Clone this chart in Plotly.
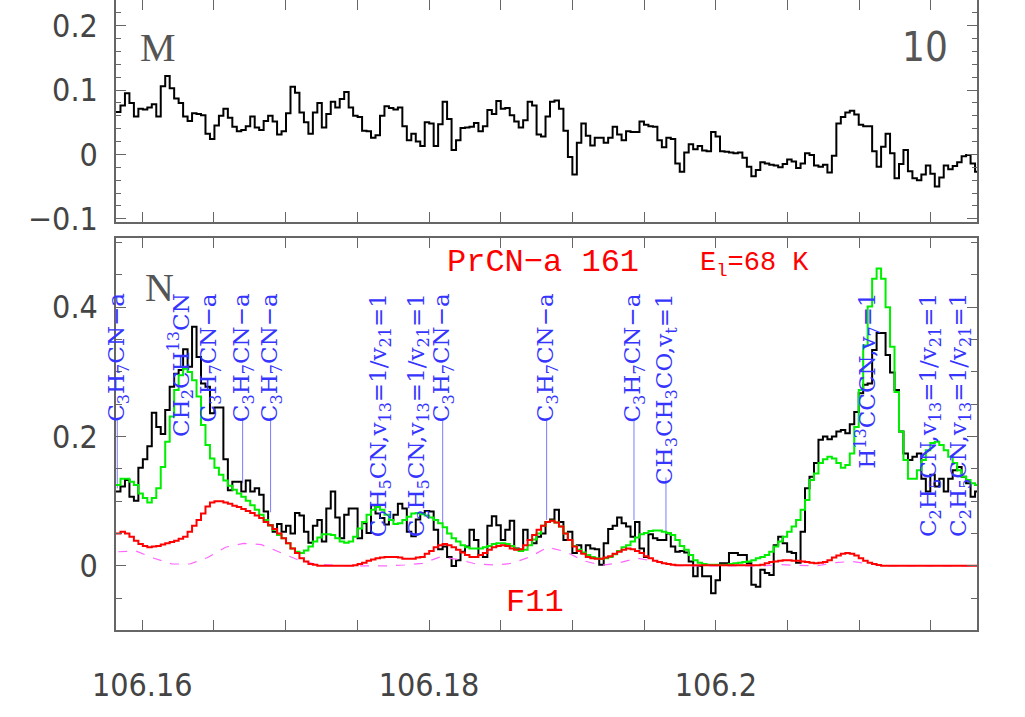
import plotly.graph_objects as go
import numpy as np

# spectral axis: left edge of first channel and channel width (GHz)
F0 = 106.15817
DF = 0.000312
X_RANGE = [106.15817, 106.21821]

# top panel (M) observed spectrum
obs_top = [0.066, 0.076, 0.095, 0.080, 0.059, 0.071, 0.070, 0.073, 0.078, 0.059,
           0.106, 0.122, 0.103, 0.087, 0.080, 0.059, 0.052, 0.064, 0.063, 0.061,
           0.032, 0.024, 0.045, 0.060, 0.071, 0.057, 0.043, 0.036, 0.038, 0.044,
           0.059, 0.042, 0.038, 0.052, 0.060, 0.051, 0.031, 0.036, 0.064, 0.105,
           0.096, 0.065, 0.050, 0.032, 0.065, 0.080, 0.042, 0.063, 0.082, 0.073,
           0.086, 0.097, 0.073, 0.060, 0.058, 0.037, 0.036, 0.026, 0.030, 0.060,
           0.075, 0.072, 0.070, 0.073, 0.044, 0.022, 0.032, 0.020, 0.013, 0.050,
           0.048, 0.013, 0.047, 0.082, 0.055, 0.007, 0.022, 0.041, 0.042, 0.043,
           0.049, 0.036, 0.044, 0.069, 0.063, 0.083, 0.071, 0.072, 0.061, 0.051,
           0.042, 0.053, 0.082, 0.076, 0.031, 0.028, 0.059,
           0.082, 0.084, 0.071, 0.037, -0.004, -0.031, 0.018, 0.048, 0.029, 0.014,
           0.026, 0.026, 0.018, 0.026, 0.043, 0.031, 0.022, 0.036, 0.035, 0.035,
           0.051, 0.046, 0.044, 0.043, 0.022, 0.011, 0.026, 0.024, -0.014, -0.027,
           0.003, 0.016, 0.008, 0.013, 0.006, 0.005, 0.035, 0.028, 0.005, 0.004,
           0.003, 0.002, 0.003, -0.005, -0.019, -0.034, -0.024, -0.012, -0.014, -0.016,
           -0.017, -0.020, -0.015, -0.008, -0.011, -0.021, -0.014, 0.002, -0.001, -0.017,
           -0.019, -0.016, -0.028, -0.002, 0.048, 0.058, 0.065, 0.068, 0.062, 0.046,
           0.044, 0.044, 0.005, -0.019, 0.012, 0.032, 0.002, -0.037, -0.015, 0.007,
           -0.026, -0.037, -0.040, -0.031, -0.017, -0.030, -0.050, -0.036, -0.017, -0.023,
           -0.018, -0.012, -0.003, -0.001, -0.014, -0.027]

# bottom panel (N) observed spectrum
obs_bot = [0.115, 0.123, 0.133, 0.107, 0.101, 0.152, 0.165, 0.185, 0.237, 0.215,
           0.204, 0.241, 0.277, 0.297, 0.303, 0.335, 0.308, 0.370, 0.323, 0.282,
           0.277, 0.236, 0.245, 0.245, 0.165, 0.117, 0.130, 0.130, 0.115, 0.132,
           0.115, 0.120, 0.110, 0.084, 0.063, 0.053, 0.065, 0.053, 0.062, 0.050,
           0.082, 0.078, 0.053, 0.036, 0.062, 0.071, 0.038, 0.089, 0.115, 0.075,
           0.043, 0.079, 0.089, 0.089, 0.043, 0.066, 0.051, 0.094, 0.081, 0.074,
           0.064, 0.071, 0.079, 0.096, 0.089, 0.053, 0.046, 0.072,
           0.081, 0.085, 0.084, 0.056, 0.026, 0.030, 0.014, 0.000, 0.009, 0.022,
           0.030, 0.056, 0.040, 0.017, 0.014, 0.062, 0.077, 0.063, 0.040, 0.056,
           0.070, 0.027, 0.025, 0.056, 0.040, 0.035, 0.045, 0.050, 0.068, 0.072,
           0.087, 0.068, 0.040, 0.053, 0.020, 0.032, 0.020, 0.032, 0.027, 0.026,
           0.002, 0.035, 0.057, 0.062, 0.075, 0.066, 0.061, 0.045, 0.068, 0.027,
           0.014, 0.049, 0.043, 0.040, 0.040, 0.050, 0.030, 0.022, 0.023, 0.021,
           0.007, -0.016, 0.000,
           -0.016, -0.016, -0.042, -0.022, 0.004, 0.004, 0.020, 0.020, 0.017, 0.017,
           0.004, -0.029, -0.032, -0.006, -0.011, -0.014, 0.032, 0.045, 0.035, 0.022,
           0.020, 0.005, 0.053, 0.120, 0.138, 0.159, 0.195, 0.200, 0.196, 0.200,
           0.208, 0.210, 0.205, 0.219, 0.238, 0.267, 0.280, 0.282, 0.334, 0.360,
           0.360, 0.326, 0.299, 0.272, 0.208, 0.174, 0.164, 0.169, 0.174, 0.135,
           0.115, 0.141, 0.123, 0.135, 0.115, 0.135, 0.148, 0.153, 0.138, 0.128,
           0.107, 0.115]

# full model (green)
model_all = [0.125, 0.135, 0.135, 0.130, 0.125, 0.112, 0.105, 0.098, 0.105, 0.120,
             0.153, 0.192, 0.231, 0.272, 0.295, 0.305, 0.300, 0.287, 0.262, 0.218,
             0.187, 0.166, 0.152, 0.141, 0.132, 0.124, 0.118, 0.112, 0.107, 0.101,
             0.094, 0.087, 0.079, 0.071, 0.063, 0.056, 0.048, 0.043, 0.035, 0.027,
             0.022, 0.020, 0.024, 0.030, 0.038, 0.044, 0.049, 0.049, 0.048, 0.043,
             0.038, 0.036, 0.038, 0.045, 0.058, 0.068, 0.079, 0.087, 0.091, 0.087,
             0.079, 0.071, 0.065, 0.066, 0.071, 0.076, 0.081, 0.082,
             0.080, 0.078, 0.075, 0.071, 0.066, 0.060, 0.050,
             0.043, 0.038, 0.032, 0.029, 0.027, 0.027, 0.027, 0.029, 0.031, 0.034,
             0.035, 0.035, 0.034, 0.031, 0.026, 0.023, 0.025, 0.032, 0.041, 0.050,
             0.062, 0.068, 0.070, 0.067, 0.061, 0.050, 0.040, 0.031, 0.025, 0.021,
             0.017, 0.014, 0.012, 0.011, 0.012, 0.014, 0.018, 0.023, 0.029, 0.032,
             0.038, 0.044, 0.049, 0.051, 0.054, 0.055, 0.055, 0.053, 0.051, 0.048,
             0.040, 0.031, 0.025, 0.017, 0.009, 0.005, 0.003,
             0.002, 0.002, 0.002, 0.002, 0.002, 0.003, 0.004, 0.005, 0.006, 0.007,
             0.009, 0.012, 0.014, 0.017, 0.022, 0.030, 0.038, 0.045, 0.053, 0.061,
             0.071, 0.087, 0.102, 0.133, 0.143, 0.159, 0.165, 0.169, 0.166, 0.159,
             0.152, 0.156, 0.174, 0.215, 0.272, 0.341, 0.401, 0.444, 0.460, 0.444,
             0.400, 0.339, 0.269, 0.208, 0.164, 0.135, 0.135, 0.148, 0.164, 0.179,
             0.190, 0.192, 0.187, 0.179, 0.169, 0.159, 0.148, 0.138, 0.133, 0.128,
             0.125]

# PrCN-a model (red)
model_prcn = [0.050, 0.053, 0.050, 0.045, 0.039, 0.034, 0.031, 0.029, 0.030, 0.031,
              0.033, 0.035, 0.037, 0.039, 0.042, 0.045, 0.053, 0.062, 0.071, 0.081,
              0.092, 0.098, 0.100, 0.100, 0.098, 0.096, 0.093, 0.091, 0.088, 0.085,
              0.082, 0.078, 0.074, 0.068, 0.063, 0.057, 0.050, 0.043, 0.035, 0.027,
              0.020, 0.012, 0.007, 0.003, 0.002, 0.0005, 0.0005, 0.0005, 0.0005, 0.0005,
              0.0005, 0.0005, 0.0005, 0.001, 0.003, 0.005, 0.008, 0.010, 0.012, 0.013,
              0.014, 0.014, 0.014, 0.013, 0.011, 0.011, 0.011, 0.013, 0.014,
              0.019, 0.023, 0.029, 0.032, 0.034, 0.032, 0.029, 0.025, 0.021, 0.017,
              0.014, 0.014, 0.017, 0.020, 0.025, 0.029, 0.031, 0.032, 0.031, 0.027,
              0.025, 0.026, 0.032, 0.040, 0.048, 0.056, 0.062, 0.068, 0.070, 0.067,
              0.061, 0.050, 0.040, 0.030, 0.023, 0.019, 0.014, 0.012, 0.011, 0.011,
              0.013, 0.015, 0.019, 0.022, 0.025, 0.027, 0.026, 0.023, 0.020, 0.015,
              0.012, 0.008, 0.006, 0.004, 0.003,
              0.002, 0.001, 0.001, 0.001, 0.001, 0.001, 0.001, 0.001, 0.001, 0.001,
              0.001, 0.001, 0.001, 0.001, 0.001, 0.001, 0.001, 0.001, 0.001, 0.001,
              0.002, 0.004, 0.006, 0.007, 0.008, 0.009, 0.009, 0.008, 0.008, 0.007,
              0.006, 0.005, 0.004, 0.005, 0.006, 0.009, 0.013, 0.016, 0.019, 0.020,
              0.019, 0.016, 0.012, 0.008, 0.005, 0.003, 0.0015,
              0.0005, 0.0005, 0.0005, 0.0005, 0.0005, 0.0005, 0.0005, 0.0005, 0.0005, 0.0005,
              0.0005, 0.0005, 0.0005, 0.0005, 0.0005, 0.0005, 0.0005, 0.0005, 0.0005, 0.0005,
              0.0005, 0.0005]

# magenta dashed model, every 4th channel
model_dash = [0.022, 0.023, 0.012, 0.003, 0.003, 0.013, 0.029, 0.035, 0.033, 0.022,
              0.010, 0.003, 0.001, 0.0, 0.0, 0.0, 0.0015, 0.004, 0.014, 0.010,
              0.003, 0.0015, 0.004, 0.014, 0.029, 0.022, 0.008, 0.001, 0.005, 0.012,
              0.007, 0.001, 0.0, 0.0, 0.0, 0.0, 0.0, 0.002, 0.001, 0.0,
              0.005, 0.007, 0.003, 0.0, 0.0, 0.0, 0.0, 0.0, 0.0]

# line identifications
line_freq = [106.15826, 106.16263, 106.16472, 106.16700, 106.16895, 106.17660,
             106.17925, 106.18095, 106.18820, 106.19429, 106.19652, 106.21052,
             106.21493, 106.21702]
line_names = ["C<sub>3</sub>H<sub>7</sub>CN\u2212a",
              "CH<sub>2</sub>CH<sup>13</sup>CN",
              "C<sub>3</sub>H<sub>7</sub>CN\u2212a",
              "C<sub>3</sub>H<sub>7</sub>CN\u2212a",
              "C<sub>3</sub>H<sub>7</sub>CN\u2212a",
              "C<sub>2</sub>H<sub>5</sub>CN,v<sub>13</sub>=1/v<sub>21</sub>=1",
              "C<sub>2</sub>H<sub>5</sub>CN,v<sub>13</sub>=1/v<sub>21</sub>=1",
              "C<sub>3</sub>H<sub>7</sub>CN\u2212a",
              "C<sub>3</sub>H<sub>7</sub>CN\u2212a",
              "C<sub>3</sub>H<sub>7</sub>CN\u2212a",
              "CH<sub>3</sub>CH<sub>3</sub>CO,v<sub>t</sub>=1",
              "H<sup>13</sup>CCCN,v<sub>7</sub>=1",
              "C<sub>2</sub>H<sub>5</sub>CN,v<sub>13</sub>=1/v<sub>21</sub>=1",
              "C<sub>2</sub>H<sub>5</sub>CN,v<sub>13</sub>=1/v<sub>21</sub>=1"]
line_top = [0.229, 0.213, 0.233, 0.229, 0.229, 0.03, 0.03, 0.225, 0.225, 0.225,
            0.137, 0.16, 0.03, 0.03]
line_bottom = [0.120, 0.213, 0.233, 0.128, 0.083, 0.03, 0.03, 0.025, 0.071, 0.071,
               0.053, 0.16, 0.03, 0.03]
LABEL_Y = 0.425

n = len(obs_bot)
edges = F0 + DF * np.arange(n + 1)
centers = F0 + DF * (np.arange(n) + 0.5)


def close(v):
    return list(v) + [v[-1]]


fig = go.Figure()

fig.add_trace(go.Scatter(x=edges, y=close(obs_top), mode='lines', line_shape='hv',
                         line=dict(color='black', width=2), xaxis='x', yaxis='y'))

# blue marker lines
lx, ly = [], []
for f, t, b in zip(line_freq, line_top, line_bottom):
    if t > b:
        lx += [f, f, None]
        ly += [t, b, None]
fig.add_trace(go.Scatter(x=lx, y=ly, mode='lines', line=dict(color='#7b7bff', width=1),
                         xaxis='x2', yaxis='y2'))

fig.add_trace(go.Scatter(x=edges, y=close(obs_bot), mode='lines', line_shape='hv',
                         line=dict(color='black', width=2), xaxis='x2', yaxis='y2'))
fig.add_trace(go.Scatter(x=edges, y=close(model_all), mode='lines', line_shape='hv',
                         line=dict(color='#00ee00', width=2), xaxis='x2', yaxis='y2'))
fig.add_trace(go.Scatter(x=centers[::4], y=model_dash, mode='lines',
                         line=dict(color='#ff66ff', width=1.2, dash='dash'),
                         xaxis='x2', yaxis='y2'))
fig.add_trace(go.Scatter(x=edges, y=close(model_prcn), mode='lines', line_shape='hv',
                         line=dict(color='#ff0000', width=2), xaxis='x2', yaxis='y2'))

TICKFONT = dict(family='Liberation Sans Narrow, DejaVu Sans Condensed, Liberation Sans',
                size=32, color='#444')

axis_common = dict(showgrid=False, zeroline=False, showline=True, linecolor='#666',
                   linewidth=1.5, mirror='ticks', ticks='inside', tickcolor='#666',
                   tickwidth=1.2, automargin=False)
x_minor = dict(tick0=106.16, dtick=0.005, ticks='inside', ticklen=10, tickcolor='#666',
               tickwidth=1.2)

fig.update_layout(
    width=1025, height=717, autosize=False,
    margin=dict(l=116, r=48, t=0, b=87),
    plot_bgcolor='white', paper_bgcolor='white', showlegend=False,
    xaxis=dict(axis_common, domain=[0, 1], anchor='y', range=X_RANGE,
               tickmode='array', tickvals=[106.16, 106.18, 106.2],
               showticklabels=False, ticklen=10, minor=x_minor),
    yaxis=dict(axis_common, domain=[0.6476, 1], anchor='x', range=[-0.105, 0.24],
               tickmode='array', tickvals=[-0.1, 0, 0.1, 0.2],
               ticktext=['\u22120.1', '0', '0.1', '0.2'], ticklen=10,
               tickfont=TICKFONT, ticklabelstandoff=10,
               minor=dict(dtick=0.02, ticks='inside', ticklen=5, tickcolor='#666')),
    xaxis2=dict(axis_common, domain=[0, 1], anchor='y2', range=X_RANGE,
                tickmode='array', tickvals=[106.16, 106.18, 106.2],
                ticktext=['106.16', '106.18', '106.2'], ticklen=10,
                tickfont=TICKFONT, ticklabelstandoff=26, minor=x_minor),
    yaxis2=dict(axis_common, domain=[0, 0.6222], anchor='x2', range=[-0.099, 0.507],
                tickmode='array', tickvals=[0, 0.2, 0.4],
                ticktext=['0', '0.2', '0.4'], ticklen=10,
                tickfont=TICKFONT, ticklabelstandoff=10,
                minor=dict(tick0=0, dtick=0.05, ticks='inside', ticklen=6,
                           tickcolor='#666')),
)

for f, name in zip(line_freq, line_names):
    fig.add_annotation(x=f, y=LABEL_Y, xref='x2', yref='y2', text=name, showarrow=False,
                       textangle=-90, xanchor='center', yanchor='top',
                       font=dict(family='DejaVu Serif', size=23, color='#3535ff'))

SERIF = 'Liberation Serif, DejaVu Serif'
MONO = 'Liberation Mono, DejaVu Sans Mono'
texts = [(0.049, 0.925, 'M', SERIF, 40, '#555'),
         (0.94, 0.925, '10', TICKFONT['family'], 40, '#555'),
         (0.05, 0.544, 'N', SERIF, 40, '#555'),
         (0.496, 0.584, 'PrCN\u2212a 161', MONO, 32, '#ff0000'),
         (0.742, 0.579, 'E<sub>l</sub>=68 K', MONO, 27, '#ff0000'),
         (0.487, 0.043, 'F11', MONO, 32, '#ff0000')]
for x, y, t, fam, sz, col in texts:
    fig.add_annotation(x=x, y=y, xref='paper', yref='paper', text=t, showarrow=False,
                       xanchor='center', yanchor='middle',
                       font=dict(family=fam, size=sz, color=col))

# drop the browser's default page margin so the figure sits at the window corner
fig.write_html("out.html", config={'displayModeBar': False},
               post_script="document.body.style.margin='0';")
